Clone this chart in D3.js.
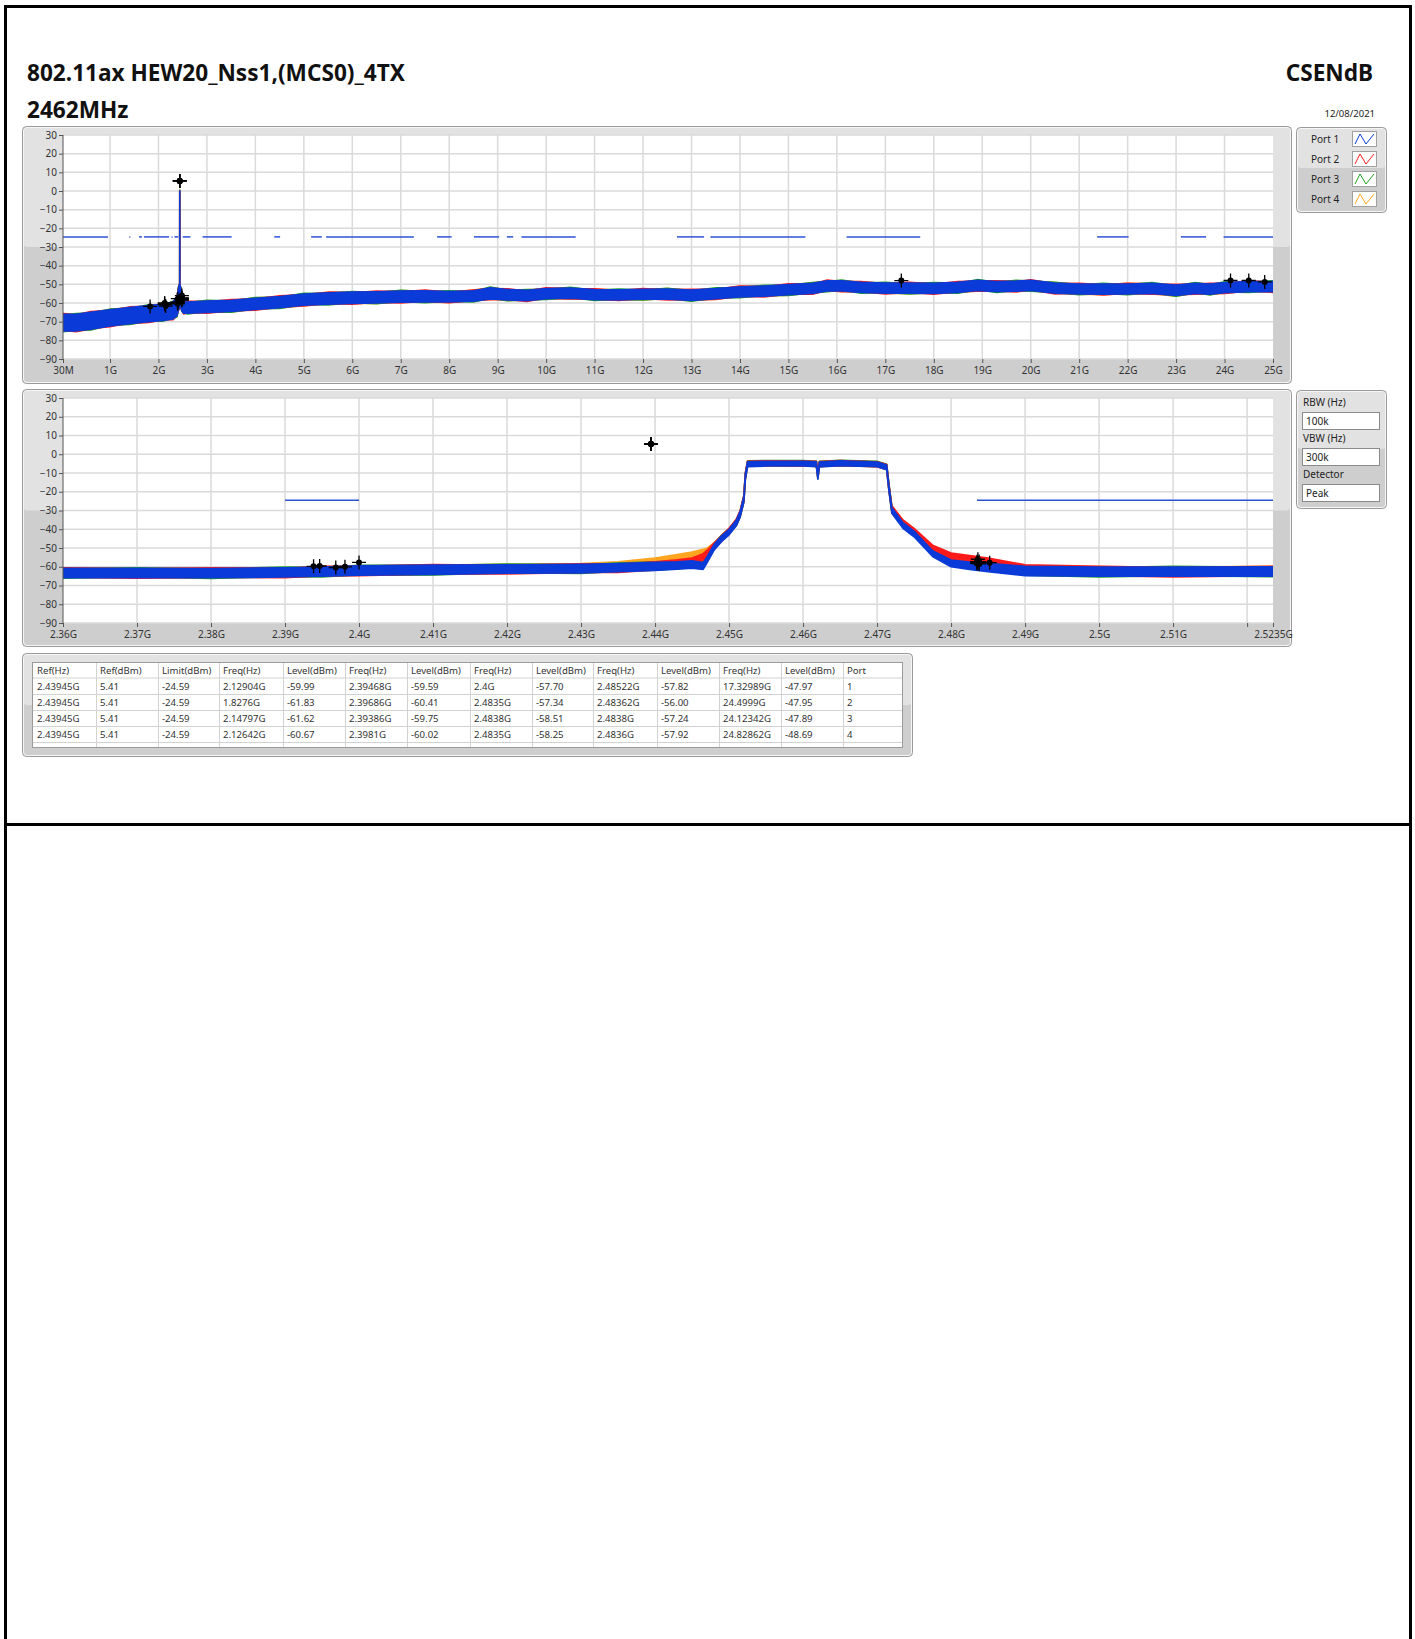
<!DOCTYPE html>
<html><head><meta charset="utf-8">
<script src="https://cdn.jsdelivr.net/npm/d3@7/dist/d3.min.js"></script>
<style>html,body{margin:0;padding:0;background:#fff}svg{display:block}</style>
</head><body>
<svg id="c" width="1415" height="1639"></svg>
<script>
// ---------------- DATA ----------------
const titleLine1 = "802.11ax HEW20_Nss1,(MCS0)_4TX";
const titleLine2 = "2462MHz";
const titleRight = "CSENdB";
const dateText = "12/08/2021";

const portNames = ["Port 1", "Port 2", "Port 3", "Port 4"];
const portColors = ["#0a3ad8", "#ff1a1a", "#1f9e1f", "#ffa51f"];

const yTickValues = [-90, -80, -70, -60, -50, -40, -30, -20, -10, 0, 10, 20, 30];

const topTickValues = [0.03, 1, 2, 3, 4, 5, 6, 7, 8, 9, 10, 11, 12, 13, 14, 15, 16, 17, 18, 19, 20, 21, 22, 23, 24, 25];
const topTickLabels = ["30M", "1G", "2G", "3G", "4G", "5G", "6G", "7G", "8G", "9G", "10G", "11G", "12G", "13G", "14G", "15G", "16G", "17G", "18G", "19G", "20G", "21G", "22G", "23G", "24G", "25G"];

const botTickValues = [2.36, 2.37, 2.38, 2.39, 2.40, 2.41, 2.42, 2.43, 2.44, 2.45, 2.46, 2.47, 2.48, 2.49, 2.50, 2.51, 2.52, 2.5235];
const botTickLabels = ["2.36G", "2.37G", "2.38G", "2.39G", "2.4G", "2.41G", "2.42G", "2.43G", "2.44G", "2.45G", "2.46G", "2.47G", "2.48G", "2.49G", "2.5G", "2.51G", "", "2.5235G"];

const limitDbm = -24.59;
// limit line segments (GHz)
const topLimitSegs = [[0.03,0.96],[1.40,1.42],[1.60,1.66],[1.70,2.22],[2.27,2.29],[2.33,2.41],[2.50,2.66],[2.91,3.51],[4.39,4.51],[5.15,5.37],[5.46,7.27],[7.75,8.05],[8.51,9.03],[9.19,9.32],[9.49,10.61],[12.70,13.26],[13.39,15.35],[16.20,17.72],[21.37,22.02],[23.10,23.62],[23.98,25.0]];
const botLimitSegs = [[2.39,2.40],[2.4835,2.5235]];

// Top sweep (30 MHz - 25 GHz): frequencies (GHz), trace level per port (dBm), noise half-width (dB)
const topFreq = [0.03,0.3,0.6,1.0,1.4,1.8,2.1,2.3,2.38,2.42, 2.435,2.438,2.4394,2.441,2.444,2.46,2.48,2.52,2.6,3.0, 3.5,4.0,4.5,5.0,5.5,6.0,6.5,7.0,7.5,8.0, 8.5,8.85,9.2,9.6,10.0,10.5,11.0,11.5,12.0,12.5, 13.0,13.5,14.0,14.5,15.0,15.5,15.8,16.1,16.5,17.0, 17.5,18.0,18.5,18.9,19.3,19.7,20.0,20.5,21.0,21.5, 22.0,22.5,23.0,23.4,23.7,24.0,24.5,25.0];
const topSpread = [4.5,4.5,4.5,4.3,4.3,4.3,4.3,4.5,5,6, 6,5,29.5,5,5.5,5,4,3,3,3, 3,3,3,3,3,3,3,3,3,2.8, 2.8,3,2.8,2.8,2.7,2.7,2.7,2.7,2.7,2.7, 2.8,2.7,2.7,2.7,2.7,2.7,2.7,2.7,2.7,2.7, 2.7,2.7,2.7,2.7,2.7,2.7,2.7,2.7,2.7,2.7, 2.7,2.7,2.8,2.7,2.7,2.7,2.7,2.7];
const topPort1 = [-70.5,-70.5,-69.5,-68,-66.8,-65.7,-65,-64,-62,-57, -56,-54,-29.5,-55,-56,-57,-60,-62.5,-62.5,-62, -61.5,-60.5,-59.5,-58.2,-57.6,-57.2,-57,-56.6,-56.5,-56.6, -56.2,-54.8,-55.6,-56,-55,-54.7,-55.5,-55.6,-55.3,-55.2, -55.8,-55,-54,-53.6,-52.8,-52.2,-50.8,-50.8,-51.6,-52, -52,-52.2,-51.6,-50.6,-51.2,-51,-50.6,-52,-52.5,-52.6, -52.5,-52.2,-53.2,-52.2,-52.6,-51.8,-51.2,-51.2];
const topPort2 = [-70.1,-70.9,-69.1,-68.4,-66.4,-66.1,-64.6,-64.4,-61.6,-57.4, -55.6,-54.4,-29.4,-55.4,-55.6,-57.4,-59.6,-62.9,-62.1,-62.4, -61.1,-60.9,-59.1,-58.6,-57.2,-57.6,-56.6,-57.0,-56.1,-57.0, -55.8,-55.2,-55.2,-56.4,-54.6,-55.1,-55.1,-56.0,-54.9,-55.6, -55.4,-55.4,-53.6,-54.0,-52.4,-52.6,-50.4,-51.2,-51.2,-52.4, -51.6,-52.6,-51.2,-51.0,-50.8,-51.4,-50.2,-52.4,-52.1,-53.0, -52.1,-52.6,-52.8,-52.6,-52.2,-52.2,-50.8,-51.6];
const topPort3 = [-70.9,-70.1,-69.9,-67.6,-67.2,-65.3,-65.4,-63.6,-62.4,-56.6, -56.4,-53.6,-29.0,-54.6,-56.4,-56.6,-60.4,-62.1,-62.9,-61.6, -61.9,-60.1,-59.9,-57.8,-58.0,-56.8,-57.4,-56.2,-56.9,-56.2, -56.6,-54.4,-56.0,-55.6,-55.4,-54.3,-55.9,-55.2,-55.7,-54.8, -56.2,-54.6,-54.4,-53.2,-53.2,-51.8,-51.2,-50.4,-52.0,-51.6, -52.4,-51.8,-52.0,-50.2,-51.6,-50.6,-51.0,-51.6,-52.9,-52.2, -52.9,-51.8,-53.6,-51.8,-53.0,-51.4,-51.6,-50.8];
const topPort4 = [-70.2,-70.6,-69.8,-67.7,-66.9,-66.0,-64.7,-64.1,-62.3,-56.7, -56.1,-54.3,-29.6,-55.1,-56.3,-56.7,-60.1,-62.8,-62.2,-62.1, -61.8,-60.2,-59.6,-58.5,-57.3,-57.3,-57.3,-56.3,-56.6,-56.9, -55.9,-54.9,-55.9,-55.7,-55.1,-55.0,-55.2,-55.7,-55.6,-54.9, -55.9,-55.3,-53.7,-53.7,-53.1,-51.9,-50.9,-51.1,-51.3,-52.1, -52.3,-51.9,-51.7,-50.9,-50.9,-51.1,-50.9,-51.7,-52.6,-52.9, -52.2,-52.3,-53.5,-51.9,-52.7,-52.1,-50.9,-51.3];

// Bottom sweep (2.36 - 2.5235 GHz)
const botFreq = [2.36,2.37,2.38,2.39,2.395,2.40,2.41,2.42,2.43,2.435, 2.44,2.443,2.445,2.4465,2.447,2.448,2.449,2.450,2.451,2.4515, 2.452,2.4522,2.4525,2.455,2.46,2.4618,2.462,2.4622,2.465,2.47, 2.4713,2.4716,2.472,2.4735,2.475,2.4775,2.48,2.4825,2.485,2.49, 2.50,2.51,2.5235];
const botSpread = [2.5,2.5,2.5,2.5,2.5,2.5,2.5,2.3,2.3,2.2, 2.2,2,2,1.8,1.6,1.5,1.5,1.5,1.5,1.5, 1.5,1.5,1.3,1.3,1.3,1.3,1.3,1.3,1.3,1.3, 1.3,1.5,1.5,1.5,1.5,1.5,1.8,2,2.2,2.5, 2.5,2.5,2.5];
const botPort1 = [-63.3,-63.3,-63.4,-63.0,-62.6,-62.0,-61.6,-61.2,-61.0,-60.5, -59.8,-59.3,-58.8,-59.6,-56.5,-49.5,-45.0,-41.5,-36.5,-32.0, -24.0,-12.0,-5.3,-5.0,-5.0,-5.3,-12.0,-5.5,-4.8,-5.4, -7.0,-18.0,-30.0,-38.0,-42.5,-53.0,-58.2,-59.5,-60.4,-62.3, -62.6,-62.6,-62.5];
const botPort2 = [-63.0,-63.6,-63.1,-63.3,-62.3,-62.3,-61.3,-61.5,-60.7,-60.8, -59.5,-58.3,-57.3,-54.8,-52.8,-48.8,-44.8,-41.0,-36.0,-31.5, -23.5,-11.5,-5.0,-4.8,-4.9,-5.1,-11.0,-5.2,-4.7,-5.3, -6.8,-17.5,-29.0,-36.5,-41.0,-50.0,-54.5,-56.0,-57.5,-61.5, -62.3,-62.9,-62.2];
const botPort3 = [-63.6,-63.0,-63.7,-62.7,-62.9,-61.7,-61.9,-60.9,-61.3,-60.2, -59.6,-59.0,-58.0,-55.5,-53.5,-49.0,-44.6,-41.2,-36.2,-31.8, -23.8,-11.8,-4.8,-4.6,-4.7,-5.0,-11.5,-5.0,-4.5,-5.1, -6.6,-17.0,-29.5,-37.0,-41.5,-50.5,-55.0,-56.5,-58.0,-62.0, -62.9,-62.3,-62.8];
const botPort4 = [-63.1,-63.5,-63.2,-63.1,-62.5,-62.0,-61.6,-61.0,-60.6,-59.6, -57.5,-55.5,-54.2,-52.5,-51.8,-48.6,-44.7,-41.3,-36.4,-31.9, -23.9,-11.9,-5.1,-4.9,-5.0,-5.2,-11.8,-5.3,-4.8,-5.4, -6.9,-17.8,-29.8,-37.5,-42.0,-51.5,-56.0,-57.5,-58.5,-62.0, -62.4,-62.6,-62.3];

// Result table
const tableHeader = ["Ref(Hz)","Ref(dBm)","Limit(dBm)","Freq(Hz)","Level(dBm)","Freq(Hz)","Level(dBm)","Freq(Hz)","Level(dBm)","Freq(Hz)","Level(dBm)","Freq(Hz)","Level(dBm)","Port"];
const tableRows = [
  ["2.43945G","5.41","-24.59","2.12904G","-59.99","2.39468G","-59.59","2.4G","-57.70","2.48522G","-57.82","17.32989G","-47.97","1"],
  ["2.43945G","5.41","-24.59","1.8276G","-61.83","2.39686G","-60.41","2.4835G","-57.34","2.48362G","-56.00","24.4999G","-47.95","2"],
  ["2.43945G","5.41","-24.59","2.14797G","-61.62","2.39386G","-59.75","2.4838G","-58.51","2.4838G","-57.24","24.12342G","-47.89","3"],
  ["2.43945G","5.41","-24.59","2.12642G","-60.67","2.3981G","-60.02","2.4835G","-58.25","2.4836G","-57.92","24.82862G","-48.69","4"]
];

const settingLabels = ["RBW (Hz)", "VBW (Hz)", "Detector"];
const settingValues = ["100k", "300k", "Peak"];

// ---------------- DRAWING ----------------
const FONT = "'Noto Sans','DejaVu Sans',sans-serif";
const svg = d3.select("#c");
svg.append("rect").attr("width", 1415).attr("height", 1639).attr("fill", "#fff");

// page border lines
const border = svg.append("g").attr("stroke", "#000").attr("stroke-width", 3);
border.append("line").attr("x1", 5.5).attr("y1", 5).attr("x2", 5.5).attr("y2", 1639);
border.append("line").attr("x1", 1410.5).attr("y1", 5).attr("x2", 1410.5).attr("y2", 1639);
border.append("line").attr("x1", 4).attr("y1", 6.5).attr("x2", 1412).attr("y2", 6.5);
border.append("line").attr("x1", 4).attr("y1", 824.5).attr("x2", 1412).attr("y2", 824.5);

// titles
const t1 = svg.append("text").attr("x", 27).attr("y", 81).attr("font-family", FONT).attr("font-weight", 700).attr("fill", "#111").text(titleLine1);
t1.attr("font-size", 20);
const w1 = t1.node().getComputedTextLength();
const titleSize = 20 * 378 / w1;
t1.attr("font-size", titleSize);
svg.append("text").attr("x", 27).attr("y", 118).attr("font-family", FONT).attr("font-weight", 700).attr("font-size", titleSize).attr("fill", "#111").text(titleLine2);
svg.append("text").attr("x", 1373).attr("y", 81).attr("text-anchor", "end").attr("font-family", FONT).attr("font-weight", 700).attr("font-size", titleSize).attr("fill", "#111").text(titleRight);
svg.append("text").attr("x", 1375).attr("y", 117).attr("text-anchor", "end").attr("font-family", FONT).attr("font-size", 9.5).attr("fill", "#222").text(dateText);

function panel(x, y, w, h, splitY) {
  const g = svg.append("g");
  g.append("rect").attr("x", x + 0.5).attr("y", y + 0.5).attr("width", w - 1).attr("height", h - 1).attr("rx", 4).attr("fill", "#cecece").attr("stroke", "#9a9a9a");
  g.append("rect").attr("x", x + 2).attr("y", y + 2).attr("width", w - 4).attr("height", splitY - y - 2).attr("rx", 3).attr("fill", "#e2e2e2");
  g.append("rect").attr("x", x + 1.5).attr("y", y + 1.5).attr("width", w - 3).attr("height", h - 3).attr("rx", 3.5).attr("fill", "none").attr("stroke", "#f6f6f6");
  return g;
}

const portSeriesTop = [topPort1, topPort2, topPort3, topPort4];
const portSeriesBot = [botPort1, botPort2, botPort3, botPort4];

const markerData = [];
tableRows.forEach(r => {
  markerData.push([parseFloat(r[0]), parseFloat(r[1])]);
  for (let c = 3; c < 13; c += 2) markerData.push([parseFloat(r[c]), parseFloat(r[c + 1])]);
});

function drawChart(cfg) {
  const x = d3.scaleLinear().domain(cfg.domain).range([63, 1273]);
  const y = d3.scaleLinear().domain([-90, 30]).range([cfg.yBottom, cfg.yTop]);
  const mid = (cfg.yBottom + cfg.yTop) / 2;
  panel(cfg.fx, cfg.fy, cfg.fw, cfg.fh, mid);
  const g = svg.append("g");
  g.append("rect").attr("x", 63).attr("y", cfg.yTop).attr("width", 1210).attr("height", cfg.yBottom - cfg.yTop).attr("fill", "#fff");

  const clipId = "clip" + cfg.id;
  svg.append("defs").append("clipPath").attr("id", clipId).append("rect")
    .attr("x", 63).attr("y", cfg.yTop - 8).attr("width", 1210).attr("height", cfg.yBottom - cfg.yTop + 8);

  // grid
  const grid = g.append("g").attr("stroke", "#dadada").attr("stroke-width", 1.5);
  grid.selectAll("line.h").data(yTickValues).join("line").attr("class", "h")
    .attr("x1", 63).attr("x2", 1273).attr("y1", d => y(d)).attr("y2", d => y(d));
  grid.selectAll("line.v").data(cfg.ticks.slice(1, -1)).join("line").attr("class", "v")
    .attr("x1", d => x(d)).attr("x2", d => x(d)).attr("y1", cfg.yTop).attr("y2", cfg.yBottom);

  const plot = g.append("g").attr("clip-path", `url(#${clipId})`);

  // limit line
  plot.selectAll("line.lim").data(cfg.limitSegs).join("line").attr("class", "lim")
    .attr("x1", d => x(d[0])).attr("x2", d => x(d[1])).attr("y1", y(limitDbm)).attr("y2", y(limitDbm))
    .attr("stroke", "#2d52d6").attr("stroke-width", 1.5);

  // traces: draw port 4, 3, 2, then port 1 on top
  const area = d3.area().x(d => x(d.f)).y0(d => y(d.v - d.s)).y1(d => y(d.v + d.s)).curve(d3.curveLinear);
  [3, 2, 1, 0].forEach(p => {
    const pts = cfg.freq.map((f, i) => ({ f: f, v: cfg.series[p][i], s: cfg.spread[i] }));
    plot.append("path").datum(pts).attr("d", area)
      .attr("fill", portColors[p]).attr("stroke", portColors[p])
      .attr("stroke-width", 1.6).attr("stroke-linejoin", "round");
  });

  // markers
  const mk = plot.selectAll("g.mk").data(markerData.filter(d => d[0] >= cfg.domain[0] && d[0] <= cfg.domain[1]))
    .join("g").attr("class", "mk").attr("transform", d => `translate(${x(d[0])},${y(d[1])})`);
  mk.append("path").attr("d", "M-7,0H7M0,-7V7").attr("stroke", "#000").attr("stroke-width", 1.3);
  mk.append("circle").attr("r", 3).attr("fill", "#000");

  // axes
  const ya = g.append("g").attr("transform", "translate(63,0)")
    .call(d3.axisLeft(y).tickValues(yTickValues).tickSize(4).tickPadding(2).tickFormat(d3.format("d")));
  ya.select(".domain").attr("stroke", "#555").attr("d", `M0,${cfg.yTop}V${cfg.yBottom}`);
  ya.selectAll(".tick line").attr("stroke", "#555");
  ya.selectAll("text").attr("font-family", FONT).attr("font-size", 10).attr("fill", "#333");

  const xa = g.append("g").attr("transform", `translate(0,${cfg.yBottom})`)
    .call(d3.axisBottom(x).tickValues(cfg.ticks).tickSize(4).tickPadding(4).tickFormat((d, i) => cfg.labels[i]));
  xa.select(".domain").remove();
  xa.selectAll(".tick line").attr("stroke", "#555");
  xa.selectAll("text").attr("font-family", FONT).attr("font-size", 10).attr("fill", "#333");
}

drawChart({ id: "top", domain: [0.03, 25], yTop: 135, yBottom: 359, fx: 22, fy: 126, fw: 1270, fh: 258,
  ticks: topTickValues, labels: topTickLabels, limitSegs: topLimitSegs,
  freq: topFreq, spread: topSpread, series: portSeriesTop });
drawChart({ id: "bot", domain: [2.36, 2.5235], yTop: 398, yBottom: 623, fx: 22, fy: 389, fw: 1270, fh: 258,
  ticks: botTickValues, labels: botTickLabels, limitSegs: botLimitSegs,
  freq: botFreq, spread: botSpread, series: portSeriesBot });

// legend panel
panel(1296, 127, 91, 86, 168);
const lg = svg.append("g");
portNames.forEach((n, i) => {
  const cy = 139 + i * 20;
  lg.append("text").attr("x", 1311).attr("y", cy + 3.5).attr("font-family", FONT).attr("font-size", 10).attr("fill", "#222").text(n);
  lg.append("rect").attr("x", 1352.5).attr("y", cy - 7.5).attr("width", 24).attr("height", 15).attr("fill", "#fff").attr("stroke", "#a0a0a0");
  lg.append("polyline").attr("points", `${1355},${cy + 5} ${1360},${cy - 5} ${1366},${cy + 5} ${1374},${cy - 5}`)
    .attr("fill", "none").attr("stroke", portColors[i]).attr("stroke-width", 1);
});

// settings panel
panel(1296, 390, 91, 119, 449);
const sg = svg.append("g");
settingLabels.forEach((l, i) => {
  const ly = 402 + i * 36;
  sg.append("text").attr("x", 1303).attr("y", ly + 3.5).attr("font-family", FONT).attr("font-size", 10).attr("fill", "#222").text(l);
  sg.append("rect").attr("x", 1302.5).attr("y", ly + 10.5).attr("width", 77).attr("height", 17).attr("fill", "#fff").attr("stroke", "#8a8a8a");
  sg.append("text").attr("x", 1306).attr("y", ly + 22.5).attr("font-family", FONT).attr("font-size", 10).attr("fill", "#222").text(settingValues[i]);
});

// table
panel(22, 653, 891, 104, 705);
const colEdges = [33, 96, 158, 219, 283, 345, 407, 470, 532, 593, 657, 719, 781, 843, 902];
const rowEdges = [663, 678, 694.5, 710.5, 726.5, 742.5];
const tg = svg.append("g");
tg.append("rect").attr("x", 33).attr("y", 663).attr("width", 869).attr("height", 84).attr("fill", "#fff");
tg.selectAll("line.c").data(colEdges.slice(1, -1)).join("line").attr("class", "c")
  .attr("x1", d => d + 0.5).attr("x2", d => d + 0.5).attr("y1", 663).attr("y2", 747).attr("stroke", "#d2d2d2");
tg.selectAll("line.r").data(rowEdges.slice(1)).join("line").attr("class", "r")
  .attr("x1", 33).attr("x2", 902).attr("y1", d => d).attr("y2", d => d).attr("stroke", "#d2d2d2");
const allRows = [tableHeader].concat(tableRows);
allRows.forEach((row, ri) => {
  const cy = ri === 0 ? 670.5 : 686.5 + (ri - 1) * 16;
  tg.selectAll(null).data(row).join("text")
    .attr("x", (d, ci) => colEdges[ci] + 4).attr("y", cy + 3.5)
    .attr("font-family", FONT).attr("font-size", 9.6).attr("fill", "#333").text(d => d);
});
tg.append("rect").attr("x", 32.5).attr("y", 662.5).attr("width", 870).attr("height", 85).attr("fill", "none").attr("stroke", "#9a9a9a");
</script>
</body></html>
